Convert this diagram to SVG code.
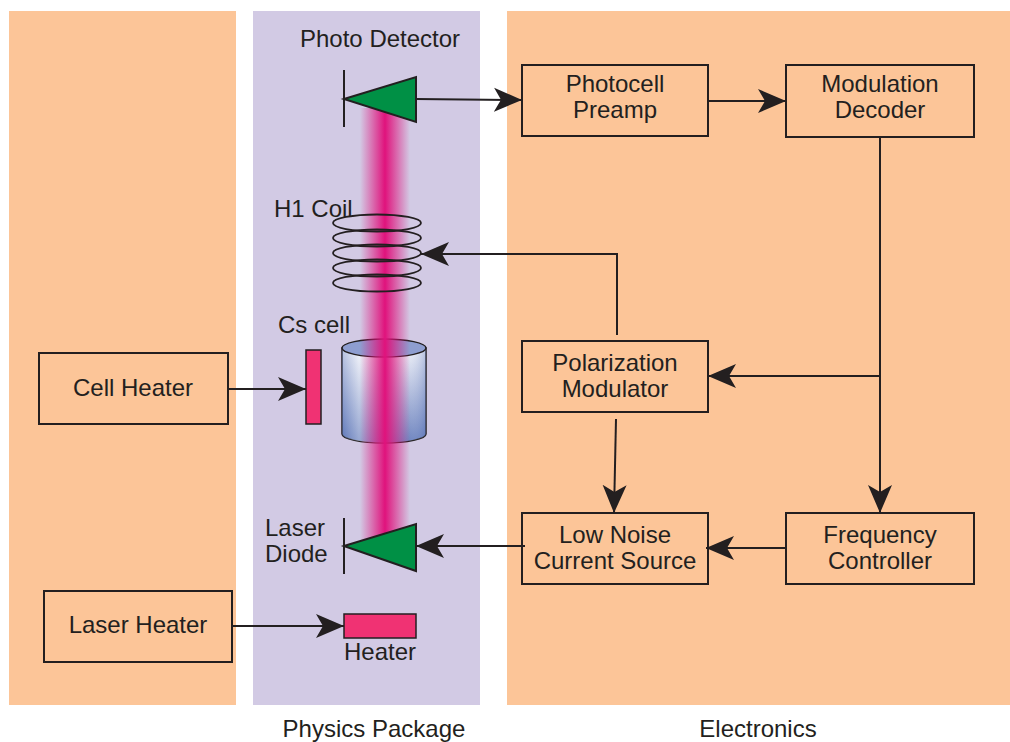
<svg xmlns="http://www.w3.org/2000/svg" width="1010" height="742" viewBox="0 0 1010 742">
  <style>
    text { font-family: "Liberation Sans", Arial, sans-serif; font-size: 24px; fill: #231f20; }
    .mid { text-anchor: middle; }
    .box { fill: none; stroke: #231f20; stroke-width: 2; }
    .wire { fill: none; stroke: #231f20; stroke-width: 2; }
    .arrow { marker-end: url(#head); }
    .diode { fill: #009045; stroke: #231f20; stroke-width: 2; stroke-linejoin: miter; }
    .bar { stroke: #231f20; stroke-width: 2; }
    .heat { fill: #f03273; stroke: #231f20; stroke-width: 1.5; }
    .coil { fill: none; stroke: #231f20; stroke-width: 1.8; }
  </style>
  <defs>
    <marker id="head" markerUnits="userSpaceOnUse" markerWidth="30" markerHeight="26" viewBox="0 0 30 26" refX="28" refY="13" orient="auto">
      <path d="M0,1 L28,13 L0,25 L7,13 Z" fill="#231f20"/>
    </marker>
    <linearGradient id="beam" x1="0" y1="0" x2="1" y2="0">
      <stop offset="0" stop-color="#e0127c" stop-opacity="0"/>
      <stop offset="0.3" stop-color="#e0127c" stop-opacity="0.6"/>
      <stop offset="0.5" stop-color="#e0127c" stop-opacity="1"/>
      <stop offset="0.7" stop-color="#e0127c" stop-opacity="0.6"/>
      <stop offset="1" stop-color="#e0127c" stop-opacity="0"/>
    </linearGradient>
    <linearGradient id="glassV" x1="0" y1="0" x2="0" y2="1">
      <stop offset="0" stop-color="#eef0f8"/>
      <stop offset="1" stop-color="#5d76b8"/>
    </linearGradient>
    <linearGradient id="glassH" x1="0" y1="0" x2="1" y2="0">
      <stop offset="0" stop-color="#5d76b8" stop-opacity="0.35"/>
      <stop offset="0.2" stop-color="#ffffff" stop-opacity="0.35"/>
      <stop offset="0.8" stop-color="#ffffff" stop-opacity="0.1"/>
      <stop offset="1" stop-color="#5d76b8" stop-opacity="0.35"/>
    </linearGradient>
  </defs>

  <!-- background panels -->
  <rect x="0" y="0" width="1010" height="742" fill="#ffffff"/>
  <rect x="9" y="11" width="227" height="694" fill="#fcc598"/>
  <rect x="253" y="11" width="227" height="694" fill="#d2cae4"/>
  <rect x="507" y="11" width="503" height="694" fill="#fcc598"/>
  <text class="mid" x="374" y="737">Physics Package</text>
  <text class="mid" x="758" y="737">Electronics</text>

  <!-- Cs cell (glass cylinder) -->
  <g id="cs-cell">
    <path d="M342,348 L342,434 A42,9 0 0 0 426,434 L426,348 Z" fill="url(#glassV)" stroke="#231f20" stroke-width="1.5"/>
    <path d="M342,348 L342,434 A42,9 0 0 0 426,434 L426,348 Z" fill="url(#glassH)"/>
    <ellipse cx="384" cy="348" rx="42" ry="9" fill="#8e9ed0" stroke="#231f20" stroke-width="1.5"/>
    <text x="278" y="333">Cs cell</text>
  </g>

  <!-- laser beam -->
  <rect x="360" y="108" width="50" height="432" fill="url(#beam)"/>

  <!-- H1 coil -->
  <g id="h1-coil">
    <ellipse class="coil" cx="377" cy="223" rx="44" ry="8.5"/>
    <ellipse class="coil" cx="377" cy="238" rx="44" ry="8.5"/>
    <ellipse class="coil" cx="377" cy="253" rx="44" ry="8.5"/>
    <ellipse class="coil" cx="377" cy="268" rx="44" ry="8.5"/>
    <ellipse class="coil" cx="377" cy="283" rx="44" ry="8.5"/>
    <text x="274" y="217">H1 Coil</text>
  </g>

  <!-- photo detector -->
  <g id="photo-detector">
    <line class="bar" x1="344" y1="70" x2="344" y2="127"/>
    <polygon class="diode" points="344,99 416,77 416,122"/>
    <text x="300" y="47">Photo Detector</text>
  </g>

  <!-- laser diode -->
  <g id="laser-diode">
    <line class="bar" x1="344" y1="518" x2="344" y2="574"/>
    <polygon class="diode" points="344,546 416,524 416,571"/>
    <text x="265" y="536">Laser</text>
    <text x="265" y="562">Diode</text>
  </g>

  <!-- heaters -->
  <g id="cell-heater-element">
    <rect class="heat" x="306" y="350" width="15" height="74"/>
  </g>
  <g id="laser-heater-element">
    <rect class="heat" x="344" y="614" width="72" height="24"/>
    <text x="344" y="660">Heater</text>
  </g>

  <!-- blocks -->
  <g id="cell-heater">
    <rect class="box" x="39" y="353" width="189" height="71"/>
    <text class="mid" x="133" y="396">Cell Heater</text>
  </g>
  <g id="laser-heater">
    <rect class="box" x="44" y="591" width="188" height="71"/>
    <text class="mid" x="138" y="633">Laser Heater</text>
  </g>
  <g id="photocell-preamp">
    <rect class="box" x="522" y="65" width="186" height="71"/>
    <text class="mid" x="615" y="92">Photocell</text>
    <text class="mid" x="615" y="118">Preamp</text>
  </g>
  <g id="modulation-decoder">
    <rect class="box" x="786" y="65" width="188" height="72"/>
    <text class="mid" x="880" y="92">Modulation</text>
    <text class="mid" x="880" y="118">Decoder</text>
  </g>
  <g id="polarization-modulator">
    <rect class="box" x="522" y="341" width="186" height="71"/>
    <text class="mid" x="615" y="371">Polarization</text>
    <text class="mid" x="615" y="397">Modulator</text>
  </g>
  <g id="current-source">
    <rect class="box" x="522" y="513" width="186" height="71"/>
    <text class="mid" x="615" y="543">Low Noise</text>
    <text class="mid" x="615" y="569">Current Source</text>
  </g>
  <g id="frequency-controller">
    <rect class="box" x="786" y="513" width="188" height="71"/>
    <text class="mid" x="880" y="543">Frequency</text>
    <text class="mid" x="880" y="569">Controller</text>
  </g>

  <!-- connectors -->
  <g id="connectors">
    <line class="wire arrow" x1="416" y1="99" x2="522" y2="100"/>
    <line class="wire arrow" x1="708" y1="101" x2="786" y2="101"/>
    <line class="wire arrow" x1="880" y1="137" x2="880" y2="513"/>
    <line class="wire arrow" x1="880" y1="376" x2="708" y2="376"/>
    <polyline class="wire arrow" points="617,335 617,254 421,254"/>
    <line class="wire arrow" x1="616" y1="419" x2="614" y2="513"/>
    <line class="wire arrow" x1="786" y1="548" x2="706" y2="548"/>
    <line class="wire arrow" x1="525" y1="546" x2="416" y2="546"/>
    <line class="wire arrow" x1="228" y1="389" x2="306" y2="389"/>
    <line class="wire arrow" x1="232" y1="626" x2="344" y2="626"/>
  </g>
</svg>
